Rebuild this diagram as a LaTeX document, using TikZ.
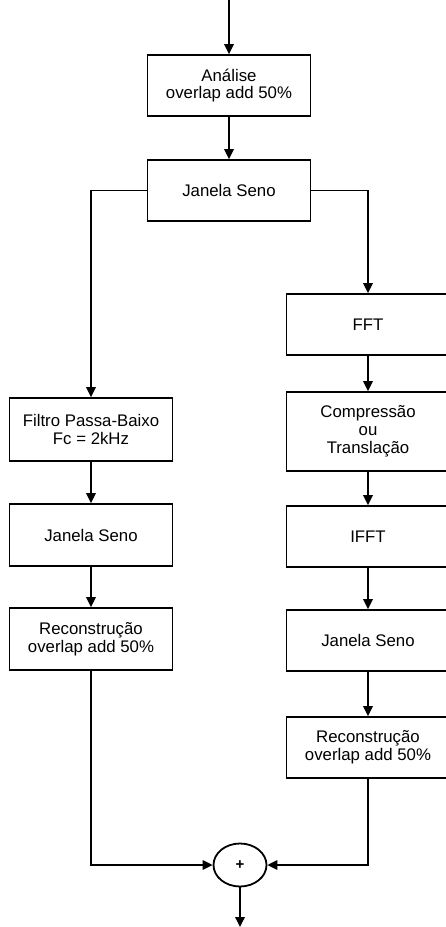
\documentclass[tikz,border=0pt]{standalone}
\usepackage{fontspec}
\setmainfont{Liberation Sans}
\usetikzlibrary{arrows.meta,shapes.geometric}
\begin{document}
\begin{tikzpicture}[x=1pt,y=-1pt,
  line width=1.8pt,
  blk/.style={draw,rectangle,inner sep=0pt,minimum width=163pt,align=center,
    font=\fontsize{16.8}{17.8}\selectfont},
  flow/.style={-{Triangle[length=10pt,width=9.5pt]}},
  sumnode/.style={draw,ellipse,inner sep=0pt,minimum width=53pt,minimum height=43pt,
    font=\fontsize{15}{15}\selectfont\bfseries}]
\useasboundingbox (0,0) rectangle (446,927);

% main chain
\coordinate (in) at (229,0);
\node[blk,minimum height=61pt] (ana) at (229,85.5) {Análise\\overlap add 50\%};
\node[blk,minimum height=61pt] (jan0) at (229,190.5) {Janela Seno};

% left branch
\node[blk,minimum height=63pt] (filt) at (91,429.5) {Filtro Passa-Baixo\\Fc = 2kHz};
\node[blk,minimum height=62pt] (janL) at (91,535) {Janela Seno};
\node[blk,minimum height=62pt] (recL) at (91,639) {Reconstrução\\overlap add 50\%};

% right branch
\node[blk,minimum height=61pt] (fft) at (368,324.5) {FFT};
\node[blk,minimum height=79pt] (comp) at (368,431.5) {Compressão\\ou\\Translação};
\node[blk,minimum height=61pt] (ifft) at (368,536.5) {IFFT};
\node[blk,minimum height=61pt] (janR) at (368,640.5) {Janela Seno};
\node[blk,minimum height=61pt] (recR) at (368,747.5) {Reconstrução\\overlap add 50\%};

% summing junction
\node[sumnode] (sum) at (240,865) {+};
\coordinate (out) at (240,927);

% connectors
\draw[flow] (in) -- (ana);
\draw[flow] (ana) -- (jan0);
\draw[flow] (jan0.west) -| (filt.north);
\draw[flow] (jan0.east) -| (fft.north);
\draw[flow] (filt) -- (janL);
\draw[flow] (janL) -- (recL);
\draw[flow] (fft) -- (comp);
\draw[flow] (comp) -- (ifft);
\draw[flow] (ifft) -- (janR);
\draw[flow] (janR) -- (recR);
\draw[flow] (recL.south) |- (sum.west);
\draw[flow] (recR.south) |- (sum.east);
\draw[flow] (sum) -- (out);
\end{tikzpicture}
\end{document}
